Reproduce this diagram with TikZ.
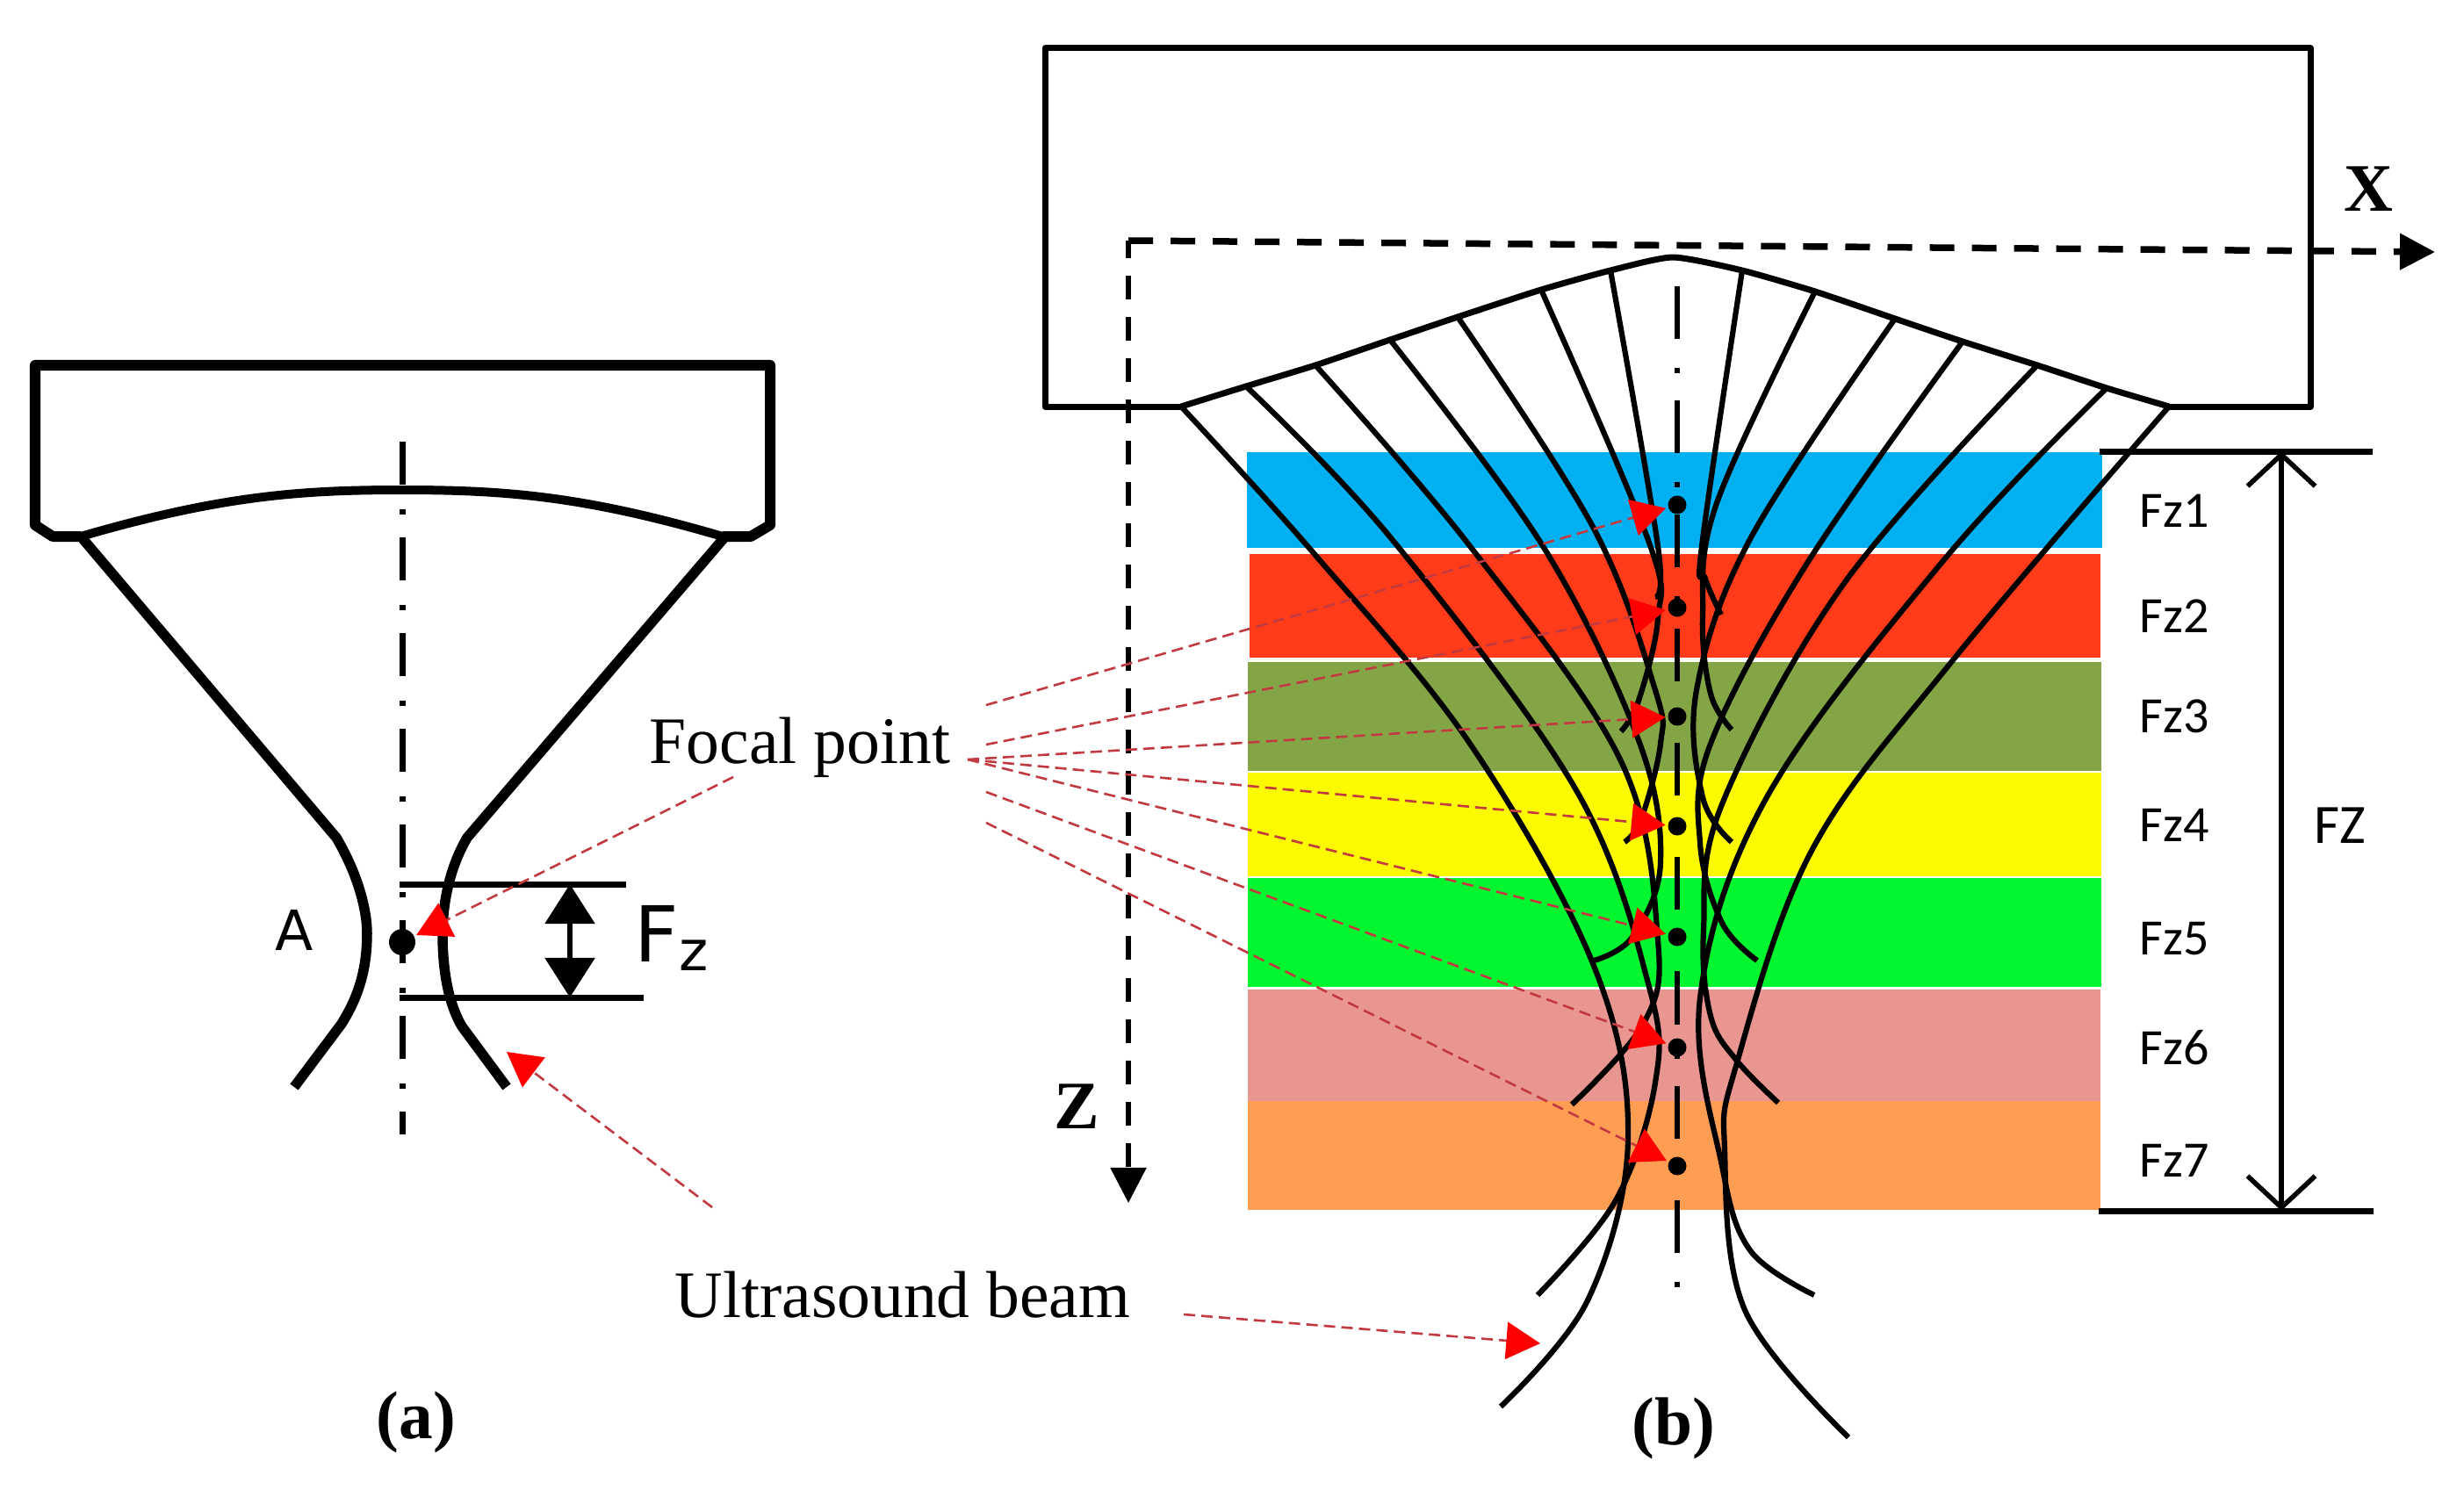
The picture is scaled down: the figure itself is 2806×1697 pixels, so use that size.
\documentclass[tikz,border=0pt]{standalone}
\usepackage{fontspec}
\setmainfont{Liberation Serif}
\newfontfamily\bandfont{Carlito}
\newfontfamily\markfont{DejaVu Sans}
\usetikzlibrary{arrows.meta}
\newdimen\pxu
\pxu=0.28453pt
\definecolor{bandblue}{HTML}{00B0F0}
\definecolor{bandred}{HTML}{FF3B1A}
\definecolor{bandolive}{HTML}{84A546}
\definecolor{bandyellow}{HTML}{FDFA00}
\definecolor{bandgreen}{HTML}{00F62E}
\definecolor{bandpink}{HTML}{E99690}
\definecolor{bandorange}{HTML}{FF9D52}
\definecolor{leader}{HTML}{C23A40}

\begin{document}
\begin{tikzpicture}[x=0.01cm, y=-0.01cm, line join=round]
  \tikzstyle{probe}=[line width=12\pxu]
  \tikzstyle{beam}=[line width=11.5\pxu]
  \tikzstyle{lens}=[line width=7\pxu]
  \tikzstyle{ray}=[line width=6.2\pxu]
  \tikzstyle{midline}=[line width=6\pxu, dash pattern=on 60\pxu off 33\pxu on 6\pxu off 31\pxu]
  \tikzstyle{midlineA}=[line width=7\pxu, dash pattern=on 49\pxu off 28\pxu on 6\pxu off 26\pxu]
  \tikzstyle{focus}=[circle, fill=black, inner sep=0pt, minimum size=21\pxu, outer sep=3\pxu]
  \tikzstyle{pointer}=[line width=2.6\pxu, color=leader, dash pattern=on 13\pxu off 7\pxu,
                       -{Triangle[length=11pt, width=12pt, color=red]}]
  \tikzstyle{fzlabel}=[font=\bandfont\fontsize{16.5}{18}\selectfont]
  \tikzstyle{call}=[font=\fontsize{21.5}{24}\selectfont]
  \tikzstyle{tag}=[font=\bfseries\fontsize{22}{24}\selectfont]
  \tikzstyle{limit}=[line width=7\pxu]
  \tikzstyle{frameaxis}=[-{Triangle[length=11.4pt, width=11.4pt]}]
  \useasboundingbox (0,0) rectangle (2806,1697);

  \draw[probe] (92,611) -- (60,611) -- (40,598) -- (40,416) -- (877,416) -- (877,598) -- (855,611) -- (823,611);
  \draw[line width=10\pxu] (92,611) .. controls (250,565) and (340,558) .. (458,558)
                           .. controls (576,558) and (666,565) .. (823,611);
  \draw[beam] (92,611) -- (383,954) .. controls (410,1000) and (418,1040) .. (418,1063)
              .. controls (418,1110) and (405,1140) .. (389,1166) -- (335,1238);
  \draw[beam] (826,611) -- (532,954) .. controls (508,995) and (504,1040) .. (504,1063)
              .. controls (504,1110) and (512,1145) .. (526,1169) -- (577,1238);
  \draw[midlineA] (458,503) -- (458,1292);
  \draw[limit] (455,1007) -- (713,1007);
  \draw[limit] (455,1136) -- (733,1136);
  \draw[line width=6\pxu, {Triangle[length=12.8pt, width=15.9pt]}-{Triangle[length=12.8pt, width=15.9pt]}] (649,1007) -- (649,1136);

  \node[focus, minimum size=30\pxu] (focusA) at (458,1073) {};
  \node[font=\markfont\fontsize{18}{20}\selectfont] (labelA) at (335,1059) {A};
  \node[anchor=base west, inner sep=0pt, font=\markfont\fontsize{25}{26}\selectfont] (labelFz) at (722,1095)
       {F\raisebox{-3pt}{\fontsize{18}{20}\selectfont z}};

  \fill[bandblue]   (1420,515)  rectangle (2394,624);
  \fill[bandred]    (1423,631)  rectangle (2392,749);
  \fill[bandolive]  (1421,754)  rectangle (2393,878);
  \fill[bandyellow] (1421,880)  rectangle (2393,998);
  \fill[bandgreen]  (1421,1000) rectangle (2393,1124);
  \fill[bandpink]   (1421,1127) rectangle (2392,1254);
  \fill[bandorange] (1421,1254) rectangle (2392,1378);

  \draw[lens] (1345,463) -- (1190,463) -- (1190,55) -- (2631,55) -- (2631,463) -- (2470,463);
  \draw[lens] plot[smooth, tension=.35] coordinates {(1345,463) (1419,440) (1498,416) (1583,387) (1660,361) (1755,330) (1834,308)
       (1905,293) (1984,308) (2067,332) (2158,363) (2235,389) (2320,416) (2399,442) (2470,463)};

  \draw[midline] (1910,326) -- (1910,1466);

  \draw[ray] plot[smooth, tension=.6] coordinates {(1345,463) (1496,630) (1674,847) (1815,1100) (1854,1298) (1808,1481) (1709,1602)};
  \draw[ray] plot[smooth, tension=.6] coordinates {(1419,440) (1585,614) (1795,900) (1878,1124) (1885,1233) (1840,1367) (1751,1475)};
  \draw[ray] plot[smooth, tension=.6] coordinates {(1498,416) (1674,622) (1846,867) (1888,1071) (1872,1165) (1790,1258)};
  \draw[ray] plot[smooth, tension=.6] coordinates {(1583,387) (1757,622) (1866,843) (1891,982) (1859,1067) (1815,1094)};
  \draw[ray] plot[smooth, tension=.6] coordinates {(1660,361) (1815,602) (1885,786) (1891,847) (1869,933) (1850,959)};
  \draw[ray] plot[smooth, tension=.6] coordinates {(1755,330) (1878,618) (1888,704) (1866,798) (1846,833)};
  \draw[ray] plot[smooth, tension=.6] coordinates {(1834,308) (1888,622) (1885,680)};
  \draw[ray] plot[smooth, tension=.6] coordinates {(1984,308) (1938,622) (1942,659) (1960,700)};
  \draw[ray] plot[smooth, tension=.6] coordinates {(2067,332) (1955,573) (1939,700) (1948,790) (1972,831)};
  \draw[ray] plot[smooth, tension=.6] coordinates {(2158,363) (1993,614) (1932,786) (1939,908) (1972,959)};
  \draw[ray] plot[smooth, tension=.6] coordinates {(2235,389) (2057,643) (1948,847) (1936,960) (1961,1051) (2001,1094)};
  \draw[ray] plot[smooth, tension=.6] coordinates {(2320,416) (2101,663) (1961,916) (1940,1060) (1948,1157) (1977,1207) (2025,1256)};
  \draw[ray] plot[smooth, tension=.6] coordinates {(2399,442) (2216,635) (2012,908) (1936,1137) (1961,1328) (1993,1424) (2066,1475)};
  \draw[ray] plot[smooth, tension=.6] coordinates {(2470,463) (2223,753) (2063,969) (1977,1214) (1964,1309) (1987,1492) (2105,1637)};

  \node[fzlabel] (Fz1) at (2476,582)  {Fz1};
  \node[fzlabel] (Fz2) at (2476,702)  {Fz2};
  \node[fzlabel] (Fz3) at (2476,816)  {Fz3};
  \node[fzlabel] (Fz4) at (2476,940)  {Fz4};
  \node[fzlabel] (Fz5) at (2476,1069) {Fz5};
  \node[fzlabel] (Fz6) at (2476,1193) {Fz6};
  \node[fzlabel] (Fz7) at (2476,1322) {Fz7};
  \node[fzlabel, font=\bandfont\fontsize{18}{20}\selectfont] (FZ) at (2665,940) {FZ};

  \draw[limit] (2391,514) -- (2702,514);
  \draw[limit] (2390,1379) -- (2703,1379);
  \draw[line width=5.5\pxu, {Straight Barb[length=10.2pt, width=21.9pt]}-{Straight Barb[length=10.2pt, width=21.9pt]}] (2598,514) -- (2598,1379);

  \coordinate (origin) at (1285,274);
  \coordinate (xend) at (2773,287);
  \coordinate (zend) at (1285,1370);
  \draw[line width=7.5\pxu, dash pattern=on 28\pxu off 20\pxu, frameaxis] (origin) -- (xend);
  \draw[line width=5.5\pxu, dash pattern=on 27\pxu off 20\pxu, dash phase=7\pxu, frameaxis] (origin) -- (zend);
  \node[tag] (labelX) at (2697,215) {X};
  \node[tag] (labelZ) at (1226,1260) {Z};

  \node[focus] (f1) at (1910,575)  {};
  \node[focus] (f2) at (1910,692)  {};
  \node[focus] (f3) at (1910,816)  {};
  \node[focus] (f4) at (1910,941)  {};
  \node[focus] (f5) at (1910,1067) {};
  \node[focus] (f6) at (1910,1193) {};
  \node[focus] (f7) at (1910,1328) {};

  \node[call] (focal) at (911,851) {Focal point};
  \node[call] (ultra) at (1028,1475) {Ultrasound beam};
  \node[tag] (tagA) at (474,1620) {(a)};
  \node[tag] (tagB) at (1906,1627) {(b)};

  \coordinate (s1) at (1123,803);
  \coordinate (s2) at (1123,848);
  \coordinate (s3) at (1102,865);
  \coordinate (s6) at (1123,902);
  \coordinate (s7) at (1123,937);
  \coordinate (s8) at (835,885);
  \coordinate (s9) at (811,1375);
  \coordinate (e9) at (577,1198);
  \coordinate (s10) at (1348,1497);
  \coordinate (e10) at (1754,1530);

  \draw[pointer] (s1) -- (f1);
  \draw[pointer] (s2) -- (f2);
  \draw[pointer] (s3) -- (f3);
  \draw[pointer] (s3) -- (f4);
  \draw[pointer] (s3) -- (f5);
  \draw[pointer] (s6) -- (f6);
  \draw[pointer] (s7) -- (f7);
  \draw[pointer] (s8) -- (focusA);
  \draw[pointer] (s9) -- (e9);
  \draw[pointer] (s10) -- (e10);
\end{tikzpicture}
\end{document}
